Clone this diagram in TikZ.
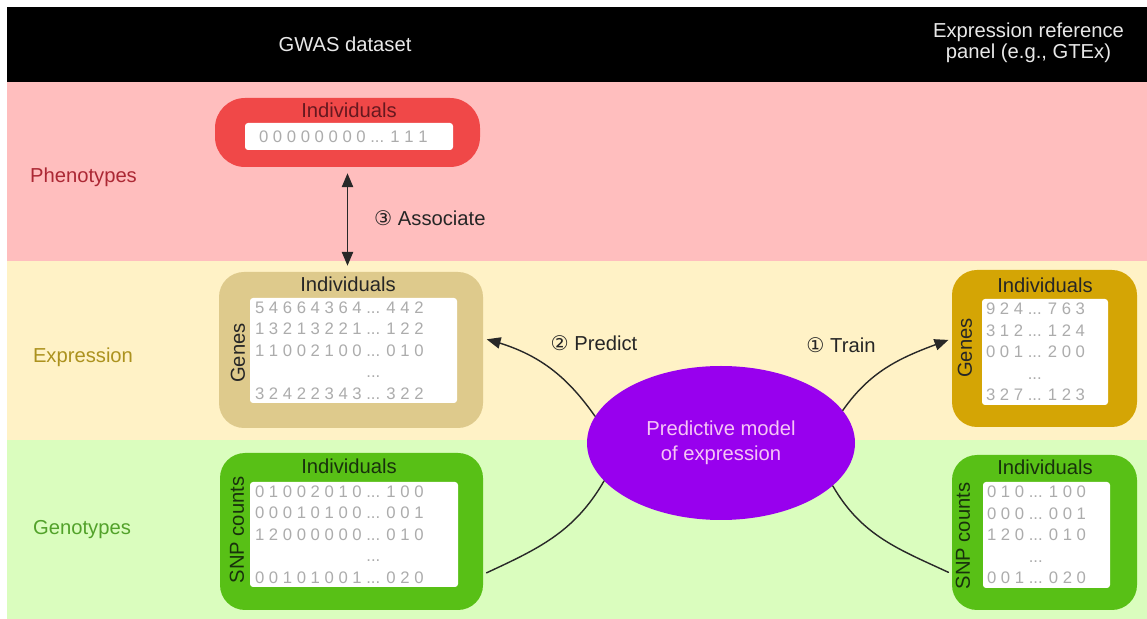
\documentclass[tikz,border=0pt]{standalone}
\usepackage{fontspec}
\setmainfont{Liberation Sans}
\newfontfamily\circfont{DejaVu Sans}
\usetikzlibrary{arrows,shapes.geometric}
\definecolor{pinkbg}{RGB}{255,190,190}
\definecolor{yellowbg}{RGB}{255,242,198}
\definecolor{greenbg}{RGB}{218,253,190}
\definecolor{phenored}{RGB}{240,72,72}
\definecolor{exptan}{RGB}{222,202,140}
\definecolor{expgold}{RGB}{212,165,5}
\definecolor{genogreen}{RGB}{88,192,22}
\definecolor{modelpurple}{RGB}{152,0,238}
\definecolor{modeltxt}{RGB}{246,196,246}
\definecolor{digitgray}{RGB}{172,172,172}
\definecolor{phenotxt}{RGB}{172,40,52}
\definecolor{exptxt}{RGB}{172,146,30}
\definecolor{genotxt}{RGB}{82,162,42}
\definecolor{headtxt}{RGB}{232,232,232}
\definecolor{linegray}{RGB}{40,40,40}

\begin{document}
\begin{tikzpicture}[line cap=round,line join=round,>=triangle 45,x=1.0cm,y=1.0cm,
    every node/.style={font=\fontsize{11.5}{14}\selectfont},
    bigbox/.style={rectangle,rounded corners=0.5cm,inner sep=0pt},
    inbox/.style={rectangle,rounded corners=0.06cm,fill=white,inner sep=0pt},
    rowtxt/.style={anchor=west,align=left,inner sep=0pt,text=digitgray,font=\fontsize{9.5}{12.2}\selectfont},
    conn/.style={line width=0.8pt,draw=linegray}]
    \useasboundingbox (0,0) rectangle (22.94,12.38);
    \fill[black] (0.14,10.74) rectangle (22.94,12.24);
    \fill[pinkbg] (0.14,7.16) rectangle (22.94,10.74);
    \fill[yellowbg] (0.14,3.58) rectangle (22.94,7.16);
    \fill[greenbg] (0.14,0) rectangle (22.94,3.58);
    \node[text=headtxt] (gwas) at (6.9,11.5) {GWAS dataset};
    \node[text=headtxt,align=center,font=\fontsize{11.5}{12}\selectfont] (panel) at (20.57,11.53) {Expression reference\\panel (e.g., GTEx)};
    \node[text=phenotxt] (phenolbl) at (1.67,8.84) {Phenotypes};
    \node[text=exptxt] (explbl) at (1.66,5.24) {Expression};
    \node[text=genotxt] (genolbl) at (1.64,1.78) {Genotypes};
    \node[bigbox,fill=phenored,rounded corners=0.6cm,minimum width=5.3cm,minimum height=1.38cm] (pheno) at (6.95,9.73) {};
    \node[inbox,minimum width=4.16cm,minimum height=0.54cm] (phenoin) at (6.98,9.65) {};
    \node[text=phenotxt!60!black] (phenottl) at (6.98,10.18) {Individuals};
    \node[rowtxt,xshift=0.28cm] (phenorow) at (phenoin.west) {0 0 0 0 0 0 0 0 ... 1 1 1};
    \node[bigbox,fill=exptan,minimum width=5.28cm,minimum height=3.12cm] (gexp) at (7.02,5.38) {};
    \node[inbox,minimum width=4.14cm,minimum height=2.1cm] (gexpin) at (7.07,5.37) {};
    \node[text=black!85] (gexpttl) at (6.96,6.7) {Individuals};
    \node[rotate=90,text=black!85] (gexplbl) at (4.76,5.32) {Genes};
    \node[rowtxt,xshift=0.1cm] (gexprows) at (gexpin.west) {5 4 6 6 4 3 6 4 ... 4 4 2\\1 3 2 1 3 2 2 1 ... 1 2 2\\1 1 0 0 2 1 0 0 ... 0 1 0\\\phantom{5 4 6 6 4 3 6 4 }...\\3 2 4 2 2 3 4 3 ... 3 2 2};
    \node[bigbox,fill=expgold,minimum width=3.7cm,minimum height=3.14cm] (rexp) at (20.89,5.41) {};
    \node[inbox,minimum width=2.52cm,minimum height=2.12cm] (rexpin) at (20.9,5.34) {};
    \node[text=black!85] (rexpttl) at (20.9,6.68) {Individuals};
    \node[rotate=90,text=black!85] (rexplbl) at (19.3,5.42) {Genes};
    \node[rowtxt,xshift=0.08cm] (rexprows) at (rexpin.west) {9 2 4 ... 7 6 3\\3 1 2 ... 1 2 4\\0 0 1 ... 2 0 0\\\phantom{9 2 4 }...\\3 2 7 ... 1 2 3};
    \node[bigbox,fill=genogreen,minimum width=5.26cm,minimum height=3.14cm] (ggeno) at (7.03,1.75) {};
    \node[inbox,minimum width=4.16cm,minimum height=2.1cm] (ggenoin) at (7.08,1.69) {};
    \node[text=genotxt!30!black] (ggenottl) at (6.98,3.06) {Individuals};
    \node[rotate=90,text=genotxt!30!black] (ggenolbl) at (4.74,1.78) {SNP counts};
    \node[rowtxt,xshift=0.1cm] (ggenorows) at (ggenoin.west) {0 1 0 0 2 0 1 0 ... 1 0 0\\0 0 0 1 0 1 0 0 ... 0 0 1\\1 2 0 0 0 0 0 0 ... 0 1 0\\\phantom{0 1 0 0 2 0 1 0 }...\\0 0 1 0 1 0 0 1 ... 0 2 0};
    \node[bigbox,fill=genogreen,minimum width=3.7cm,minimum height=3.1cm] (rgeno) at (20.89,1.73) {};
    \node[inbox,minimum width=2.54cm,minimum height=2.12cm] (rgenoin) at (20.93,1.68) {};
    \node[text=genotxt!30!black] (rgenottl) at (20.9,3.04) {Individuals};
    \node[rotate=90,text=genotxt!30!black] (rgenolbl) at (19.26,1.66) {SNP counts};
    \node[rowtxt,xshift=0.08cm] (rgenorows) at (rgenoin.west) {0 1 0 ... 1 0 0\\0 0 0 ... 0 0 1\\1 2 0 ... 0 1 0\\\phantom{0 1 0 }...\\0 0 1 ... 0 2 0};
    \node[ellipse,fill=modelpurple,minimum width=5.36cm,minimum height=3.08cm,inner sep=0pt,align=center,text=modeltxt] (model) at (14.42,3.52) {Predictive model\\of expression};
    \draw[conn,<->,shorten <=0.12cm,shorten >=0.12cm] (pheno.south) -- (pheno.south |- gexp.north);
    \node[anchor=west,text=black!85] (assoc) at (7.36,8.02) {{\circfont ③} Associate};
    \draw[conn,->,shorten >=2pt] (model.168) to[out=125,in=-15] (gexp.5);
    \node[text=black!85] (predict) at (11.88,5.52) {{\circfont ②} Predict};
    \draw[conn,->,shorten >=2pt] (model.15) to[out=55,in=200] (rexp.174);
    \node[text=black!85] (train) at (16.82,5.48) {{\circfont ①} Train};
    \draw[conn,shorten >=2pt] (model.198) to[out=240,in=25] (ggeno.-18);
    \draw[conn,shorten >=2pt] (model.-21) to[out=-60,in=155] (rgeno.204);
\end{tikzpicture}
\end{document}
